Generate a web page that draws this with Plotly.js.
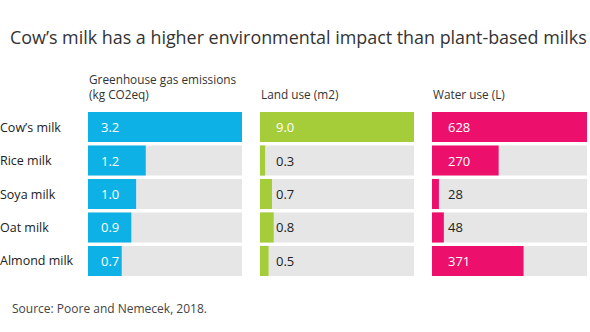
<!DOCTYPE html>
<html>
<head>
<meta charset="utf-8">
<script src="https://cdn.plot.ly/plotly-3.0.1.min.js"></script>
<style>html,body{margin:0;padding:0;background:#fff}#chart{width:590px;height:332px}</style>
</head>
<body>
<div id="chart"></div>
<script>
var categories = ["Cow\u2019s milk", "Rice milk", "Soya milk", "Oat milk", "Almond milk"];
var ghg = [3.2, 1.2, 1.0, 0.9, 0.7];
var land = [9.0, 0.3, 0.7, 0.8, 0.5];
var water = [628, 270, 28, 48, 371];
var ghgLabels = ["3.2", "1.2", "1.0", "0.9", "0.7"];
var landLabels = ["9.0", "0.3", "0.7", "0.8", "0.5"];
var waterLabels = ["628", "270", "28", "48", "371"];
var panelTitles = ["Greenhouse gas emissions<br>(kg CO2eq)", "Land use (m2)", "Water use (L)"];
var titleText = "Cow\u2019s milk has a higher environmental impact than plant-based milks";
var sourceText = "Source: Poore and Nemecek, 2018.";

var W = 590, H = 332;
var FONT = "Open Sans, Noto Sans, sans-serif";
var colors = ["#0db1e6", "#a5cd39", "#ec0f6c"];
var grey = "#e6e6e6";
var domainsPx = [[88, 242], [260, 414], [432, 587]];
var labelShift = [11, 14, 14];
var yTop = 112, yBot = 276;

var series = [ghg, land, water];
var labels = [ghgLabels, landLabels, waterLabels];
var traces = [];
var annotations = [];
var layout = {
  width: W, height: H,
  margin: {l: 0, r: 0, t: 0, b: 0},
  paper_bgcolor: "#fff", plot_bgcolor: "#fff",
  barmode: "overlay", bargap: 0.1,
  showlegend: false,
  font: {family: FONT, color: "#333"},
  title: {text: titleText, font: {family: FONT, size: 17.9, color: "#333"},
          x: 10 / W, xanchor: "left", xref: "paper", y: 1 - 38 / H, yanchor: "middle", yref: "paper"}
};

for (var p = 0; p < 3; p++) {
  var sfx = p === 0 ? "" : String(p + 1);
  var xa = "x" + sfx, ya = "y" + sfx;
  var vals = series[p];
  var mx = Math.max.apply(null, vals);
  var widthPx = domainsPx[p][1] - domainsPx[p][0];
  traces.push({
    type: "bar", orientation: "h", x: vals.map(function(){ return mx; }), y: categories,
    xaxis: xa, yaxis: ya, marker: {color: grey}, hoverinfo: "skip", width: 0.9
  });
  traces.push({
    type: "bar", orientation: "h", x: vals, y: categories,
    xaxis: xa, yaxis: ya, marker: {color: colors[p]}, width: 0.9
  });
  layout["xaxis" + sfx] = {
    domain: [domainsPx[p][0] / W, domainsPx[p][1] / W], range: [0, mx],
    showgrid: false, zeroline: false, showticklabels: false, showline: false, anchor: ya, fixedrange: true
  };
  layout["yaxis" + sfx] = {
    domain: [1 - yBot / H, 1 - yTop / H], type: "category", categoryarray: categories,
    range: [categories.length - 0.55, -0.45], showgrid: false, zeroline: false,
    showticklabels: false, showline: false, anchor: xa, fixedrange: true
  };
  for (var i = 0; i < vals.length; i++) {
    var barPx = vals[i] / mx * widthPx;
    annotations.push({
      xref: xa + " domain", yref: ya, x: 0, y: categories[i], xanchor: "left", yanchor: "middle",
      xshift: labelShift[p], showarrow: false, text: labels[p][i],
      font: {family: FONT, size: 13, color: barPx > 30 ? "#ffffff" : "#222"}
    });
  }
  annotations.push({
    xref: xa + " domain", yref: "paper", x: 0, y: 1 - 104 / H, xanchor: "left", yanchor: "bottom",
    showarrow: false, text: panelTitles[p], align: "left", xshift: -1,
    font: {family: FONT, size: 11.8, color: "#333"}
  });
}
for (var c = 0; c < categories.length; c++) {
  annotations.push({
    xref: "paper", yref: "y", x: 0, y: categories[c], xanchor: "left", yanchor: "middle",
    showarrow: false, text: categories[c], xshift: -2,
    font: {family: FONT, size: 12.5, color: "#222"}
  });
}
annotations.push({
  xref: "paper", yref: "paper", x: 10 / W, y: 1 - 308 / H, xanchor: "left", yanchor: "middle",
  showarrow: false, text: sourceText, font: {family: FONT, size: 12, color: "#444"}
});
layout.annotations = annotations;

Plotly.newPlot("chart", traces, layout, {displayModeBar: false, staticPlot: true});
</script>
</body>
</html>
